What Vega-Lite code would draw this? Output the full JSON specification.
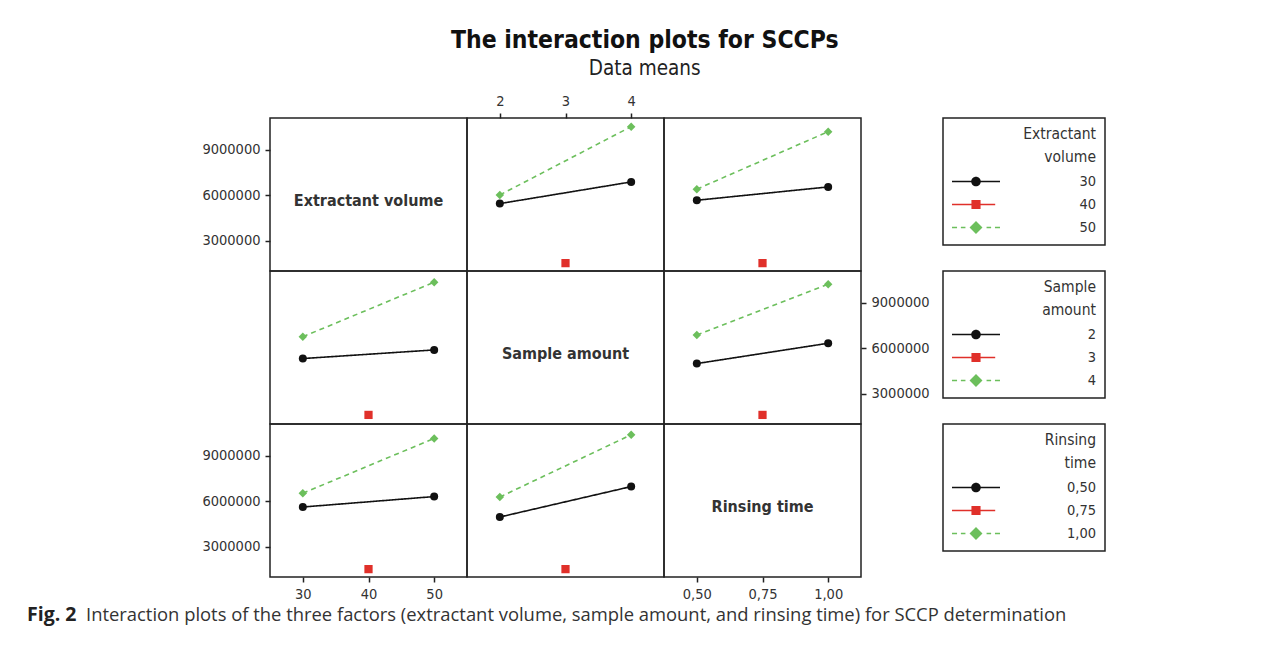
{
  "$schema": "https://vega.github.io/schema/vega-lite/v6.json",
  "padding": {"left": 27, "top": 28, "right": 10, "bottom": 10},
  "title": {
    "text": "The interaction plots for SCCPs",
    "subtitle": "Data means",
    "anchor": "middle",
    "dx": 78,
    "offset": 12,
    "font": "DejaVu Sans Condensed, DejaVu Sans, sans-serif",
    "fontSize": 24.5,
    "fontWeight": "bold",
    "color": "#111111",
    "subtitleFont": "DejaVu Sans Condensed, DejaVu Sans, sans-serif",
    "subtitleFontSize": 20.5,
    "subtitleColor": "#222222",
    "subtitlePadding": 5
  },
  "columns": 3,
  "spacing": 0,
  "bounds": "flush",
  "resolve": {
    "scale": {"color": "independent", "shape": "independent", "strokeDash": "independent", "size": "independent", "x": "independent", "y": "independent"},
    "legend": {"color": "independent", "shape": "independent"}
  },
  "concat": [
    {
      "width": 197, "height": 153,
      "data": {"values": [{"t": "Extractant volume"}]},
      "mark": {"type": "text", "fontWeight": "bold", "fontSize": 16, "color": "#333333", "baseline": "middle", "align": "center", "dy": 6},
      "encoding": {
        "text": {"field": "t"},
        "x": {"datum": 40, "type": "quantitative", "scale": {"domain": [25, 55], "nice": false, "zero": false}, "axis": null},
        "y": {"datum": 6050000, "type": "quantitative", "scale": {"domain": [1000000, 11100000], "nice": false, "zero": false}, "axis": {"orient": "left", "values": [3000000, 6000000, 9000000], "format": "d", "title": null}}
      }
    },
    {
      "width": 197, "height": 153,
      "data": {"values": [
        {"x": 2, "y": 5450000, "g": "30"}, {"x": 4, "y": 6880000, "g": "30"},
        {"x": 3, "y": 1520000, "g": "40"},
        {"x": 2, "y": 6020000, "g": "50"}, {"x": 4, "y": 10530000, "g": "50"}
      ]},
      "encoding": {
        "x": {"field": "x", "type": "quantitative", "scale": {"domain": [1.5, 4.5], "nice": false, "zero": false}, "axis": {"orient": "top", "values": [2, 3, 4], "format": "d", "title": null}},
        "y": {"field": "y", "type": "quantitative", "scale": {"domain": [1000000, 11100000], "nice": false, "zero": false}, "axis": null}
      },
      "layer": [
        {"mark": {"type": "line", "strokeWidth": 1.6},
         "encoding": {
           "color": {"field": "g", "type": "nominal", "scale": {"domain": ["30", "40", "50"], "range": ["#111111", "#e0302a", "#6cbf5c"]}, "legend": null},
           "strokeDash": {"field": "g", "type": "nominal", "scale": {"domain": ["30", "40", "50"], "range": [[1, 0], [1, 0], [5, 4]]}, "legend": null}}},
        {"mark": {"type": "point", "filled": true, "opacity": 1},
         "encoding": {
           "color": {"field": "g", "type": "nominal", "scale": {"domain": ["30", "40", "50"], "range": ["#111111", "#e0302a", "#6cbf5c"]}, "legend": null},
           "shape": {"field": "g", "type": "nominal", "scale": {"domain": ["30", "40", "50"], "range": ["circle", "square", "diamond"]}, "legend": null},
           "size": {"field": "g", "type": "ordinal", "scale": {"domain": ["30", "40", "50"], "range": [64, 72, 140]}, "legend": null}}}
      ]
    },
    {
      "width": 197, "height": 153,
      "resolve": {"scale": {"color": "independent", "shape": "independent"}},
      "encoding": {
        "x": {"field": "x", "type": "quantitative", "scale": {"domain": [0.375, 1.125], "nice": false, "zero": false}, "axis": null},
        "y": {"field": "y", "type": "quantitative", "scale": {"domain": [1000000, 11100000], "nice": false, "zero": false}, "axis": null}
      },
      "layer": [
        {"data": {"values": [
          {"x": 0.5, "y": 5670000, "g": "30"}, {"x": 1.0, "y": 6550000, "g": "30"},
          {"x": 0.75, "y": 1520000, "g": "40"},
          {"x": 0.5, "y": 6400000, "g": "50"}, {"x": 1.0, "y": 10200000, "g": "50"}
        ]},
         "layer": [
          {"mark": {"type": "line", "strokeWidth": 1.6},
           "encoding": {
             "color": {"field": "g", "type": "nominal", "scale": {"domain": ["30", "40", "50"], "range": ["#111111", "#e0302a", "#6cbf5c"]}, "legend": null},
             "strokeDash": {"field": "g", "type": "nominal", "scale": {"domain": ["30", "40", "50"], "range": [[1, 0], [1, 0], [5, 4]]}, "legend": null}}},
          {"mark": {"type": "point", "filled": true, "opacity": 1},
           "encoding": {
             "color": {"field": "g", "type": "nominal", "scale": {"domain": ["30", "40", "50"], "range": ["#111111", "#e0302a", "#6cbf5c"]}, "legend": null},
             "shape": {"field": "g", "type": "nominal", "scale": {"domain": ["30", "40", "50"], "range": ["circle", "square", "diamond"]}, "legend": null},
             "size": {"field": "g", "type": "ordinal", "scale": {"domain": ["30", "40", "50"], "range": [64, 72, 140]}, "legend": null}}}
         ]},
        {"data": {"values": [{"g": "30"}, {"g": "40"}, {"g": "50"}]},
         "mark": {"type": "point", "filled": true, "opacity": 0, "size": 2304},
         "encoding": {
           "color": {"field": "g", "type": "nominal", "scale": {"domain": ["30", "40", "50"], "range": ["#111111", "#e0302a", "#6cbf5c"]},
             "legend": {"orient": "none", "legendX": 279, "legendY": 0, "title": ["Extractant", "volume"], "titleAnchor": "end", "titleAlign": "right", "titleLineHeight": 23, "titlePadding": 8, "labelAlign": "right", "labelOffset": 96, "symbolSize": 2304, "symbolStrokeWidth": 0, "symbolOpacity": 1, "clipHeight": 16, "rowPadding": 7, "padding": 9}},
           "shape": {"field": "g", "type": "nominal", "scale": {"domain": ["30", "40", "50"], "range": [
             "M-1,-0.031H-0.17V0.031H-1Z M0.17,-0.031H1V0.031H0.17Z M-0.2,0A0.2,0.2 0 1 1 0.2,0A0.2,0.2 0 1 1 -0.2,0Z",
             "M-1,-0.031H-0.17V0.031H-1Z M0.17,-0.031H0.8V0.031H0.17Z M-0.19,-0.19H0.19V0.19H-0.19Z",
             "M-1,-0.031H-0.79V0.031H-1Z M-0.63,-0.031H-0.44V0.031H-0.63Z M0.44,-0.031H0.63V0.031H0.44Z M0.79,-0.031H1V0.031H0.79Z M0,-0.27L0.27,0L0,0.27L-0.27,0Z"]},
             "legend": {"orient": "none", "legendX": 279, "legendY": 0, "title": ["Extractant", "volume"], "titleAnchor": "end", "titleAlign": "right", "titleLineHeight": 23, "titlePadding": 8, "labelAlign": "right", "labelOffset": 96, "symbolSize": 2304, "symbolStrokeWidth": 0, "symbolOpacity": 1, "clipHeight": 16, "rowPadding": 7, "padding": 9}}
         }}
      ]
    },
    {
      "width": 197, "height": 153,
      "data": {"values": [
        {"x": 30, "y": 5320000, "g": "2"}, {"x": 50, "y": 5890000, "g": "2"},
        {"x": 40, "y": 1600000, "g": "3"},
        {"x": 30, "y": 6760000, "g": "4"}, {"x": 50, "y": 10360000, "g": "4"}
      ]},
      "encoding": {
        "x": {"field": "x", "type": "quantitative", "scale": {"domain": [25, 55], "nice": false, "zero": false}, "axis": null},
        "y": {"field": "y", "type": "quantitative", "scale": {"domain": [1000000, 11100000], "nice": false, "zero": false}, "axis": null}
      },
      "layer": [
        {"mark": {"type": "line", "strokeWidth": 1.6},
         "encoding": {
           "color": {"field": "g", "type": "nominal", "scale": {"domain": ["2", "3", "4"], "range": ["#111111", "#e0302a", "#6cbf5c"]}, "legend": null},
           "strokeDash": {"field": "g", "type": "nominal", "scale": {"domain": ["2", "3", "4"], "range": [[1, 0], [1, 0], [5, 4]]}, "legend": null}}},
        {"mark": {"type": "point", "filled": true, "opacity": 1},
         "encoding": {
           "color": {"field": "g", "type": "nominal", "scale": {"domain": ["2", "3", "4"], "range": ["#111111", "#e0302a", "#6cbf5c"]}, "legend": null},
           "shape": {"field": "g", "type": "nominal", "scale": {"domain": ["2", "3", "4"], "range": ["circle", "square", "diamond"]}, "legend": null},
           "size": {"field": "g", "type": "ordinal", "scale": {"domain": ["2", "3", "4"], "range": [64, 72, 140]}, "legend": null}}}
      ]
    },
    {
      "width": 197, "height": 153,
      "data": {"values": [{"t": "Sample amount"}]},
      "mark": {"type": "text", "fontWeight": "bold", "fontSize": 16, "color": "#333333", "baseline": "middle", "align": "center", "dy": 6},
      "encoding": {
        "text": {"field": "t"},
        "x": {"datum": 3, "type": "quantitative", "scale": {"domain": [1.5, 4.5], "nice": false, "zero": false}, "axis": null},
        "y": {"datum": 6050000, "type": "quantitative", "scale": {"domain": [1000000, 11100000], "nice": false, "zero": false}, "axis": null}
      }
    },
    {
      "width": 197, "height": 153,
      "resolve": {"scale": {"color": "independent", "shape": "independent"}},
      "encoding": {
        "x": {"field": "x", "type": "quantitative", "scale": {"domain": [0.375, 1.125], "nice": false, "zero": false}, "axis": null},
        "y": {"field": "y", "type": "quantitative", "scale": {"domain": [1000000, 11100000], "nice": false, "zero": false}, "axis": {"orient": "right", "values": [3000000, 6000000, 9000000], "format": "d", "title": null}}
      },
      "layer": [
        {"data": {"values": [
          {"x": 0.5, "y": 4990000, "g": "2"}, {"x": 1.0, "y": 6330000, "g": "2"},
          {"x": 0.75, "y": 1600000, "g": "3"},
          {"x": 0.5, "y": 6880000, "g": "4"}, {"x": 1.0, "y": 10230000, "g": "4"}
        ]},
         "layer": [
          {"mark": {"type": "line", "strokeWidth": 1.6},
           "encoding": {
             "color": {"field": "g", "type": "nominal", "scale": {"domain": ["2", "3", "4"], "range": ["#111111", "#e0302a", "#6cbf5c"]}, "legend": null},
             "strokeDash": {"field": "g", "type": "nominal", "scale": {"domain": ["2", "3", "4"], "range": [[1, 0], [1, 0], [5, 4]]}, "legend": null}}},
          {"mark": {"type": "point", "filled": true, "opacity": 1},
           "encoding": {
             "color": {"field": "g", "type": "nominal", "scale": {"domain": ["2", "3", "4"], "range": ["#111111", "#e0302a", "#6cbf5c"]}, "legend": null},
             "shape": {"field": "g", "type": "nominal", "scale": {"domain": ["2", "3", "4"], "range": ["circle", "square", "diamond"]}, "legend": null},
             "size": {"field": "g", "type": "ordinal", "scale": {"domain": ["2", "3", "4"], "range": [64, 72, 140]}, "legend": null}}}
         ]},
        {"data": {"values": [{"g": "2"}, {"g": "3"}, {"g": "4"}]},
         "mark": {"type": "point", "filled": true, "opacity": 0, "size": 2304},
         "encoding": {
           "color": {"field": "g", "type": "nominal", "scale": {"domain": ["2", "3", "4"], "range": ["#111111", "#e0302a", "#6cbf5c"]},
             "legend": {"orient": "none", "legendX": 279, "legendY": 0, "title": ["Sample", "amount"], "titleAnchor": "end", "titleAlign": "right", "titleLineHeight": 23, "titlePadding": 8, "labelAlign": "right", "labelOffset": 96, "symbolSize": 2304, "symbolStrokeWidth": 0, "symbolOpacity": 1, "clipHeight": 16, "rowPadding": 7, "padding": 9}},
           "shape": {"field": "g", "type": "nominal", "scale": {"domain": ["2", "3", "4"], "range": [
             "M-1,-0.031H-0.17V0.031H-1Z M0.17,-0.031H1V0.031H0.17Z M-0.2,0A0.2,0.2 0 1 1 0.2,0A0.2,0.2 0 1 1 -0.2,0Z",
             "M-1,-0.031H-0.17V0.031H-1Z M0.17,-0.031H0.8V0.031H0.17Z M-0.19,-0.19H0.19V0.19H-0.19Z",
             "M-1,-0.031H-0.79V0.031H-1Z M-0.63,-0.031H-0.44V0.031H-0.63Z M0.44,-0.031H0.63V0.031H0.44Z M0.79,-0.031H1V0.031H0.79Z M0,-0.27L0.27,0L0,0.27L-0.27,0Z"]},
             "legend": {"orient": "none", "legendX": 279, "legendY": 0, "title": ["Sample", "amount"], "titleAnchor": "end", "titleAlign": "right", "titleLineHeight": 23, "titlePadding": 8, "labelAlign": "right", "labelOffset": 96, "symbolSize": 2304, "symbolStrokeWidth": 0, "symbolOpacity": 1, "clipHeight": 16, "rowPadding": 7, "padding": 9}}
         }}
      ]
    },
    {
      "width": 197, "height": 153,
      "data": {"values": [
        {"x": 30, "y": 5620000, "g": "0,50"}, {"x": 50, "y": 6310000, "g": "0,50"},
        {"x": 40, "y": 1520000, "g": "0,75"},
        {"x": 30, "y": 6530000, "g": "1,00"}, {"x": 50, "y": 10150000, "g": "1,00"}
      ]},
      "encoding": {
        "x": {"field": "x", "type": "quantitative", "scale": {"domain": [25, 55], "nice": false, "zero": false}, "axis": {"orient": "bottom", "values": [30, 40, 50], "format": "d", "title": null}},
        "y": {"field": "y", "type": "quantitative", "scale": {"domain": [1000000, 11100000], "nice": false, "zero": false}, "axis": {"orient": "left", "values": [3000000, 6000000, 9000000], "format": "d", "title": null}}
      },
      "layer": [
        {"mark": {"type": "line", "strokeWidth": 1.6},
         "encoding": {
           "color": {"field": "g", "type": "nominal", "scale": {"domain": ["0,50", "0,75", "1,00"], "range": ["#111111", "#e0302a", "#6cbf5c"]}, "legend": null},
           "strokeDash": {"field": "g", "type": "nominal", "scale": {"domain": ["0,50", "0,75", "1,00"], "range": [[1, 0], [1, 0], [5, 4]]}, "legend": null}}},
        {"mark": {"type": "point", "filled": true, "opacity": 1},
         "encoding": {
           "color": {"field": "g", "type": "nominal", "scale": {"domain": ["0,50", "0,75", "1,00"], "range": ["#111111", "#e0302a", "#6cbf5c"]}, "legend": null},
           "shape": {"field": "g", "type": "nominal", "scale": {"domain": ["0,50", "0,75", "1,00"], "range": ["circle", "square", "diamond"]}, "legend": null},
           "size": {"field": "g", "type": "ordinal", "scale": {"domain": ["0,50", "0,75", "1,00"], "range": [64, 72, 140]}, "legend": null}}}
      ]
    },
    {
      "width": 197, "height": 153,
      "data": {"values": [
        {"x": 2, "y": 4960000, "g": "0,50"}, {"x": 4, "y": 6970000, "g": "0,50"},
        {"x": 3, "y": 1520000, "g": "0,75"},
        {"x": 2, "y": 6280000, "g": "1,00"}, {"x": 4, "y": 10390000, "g": "1,00"}
      ]},
      "encoding": {
        "x": {"field": "x", "type": "quantitative", "scale": {"domain": [1.5, 4.5], "nice": false, "zero": false}, "axis": null},
        "y": {"field": "y", "type": "quantitative", "scale": {"domain": [1000000, 11100000], "nice": false, "zero": false}, "axis": null}
      },
      "layer": [
        {"mark": {"type": "line", "strokeWidth": 1.6},
         "encoding": {
           "color": {"field": "g", "type": "nominal", "scale": {"domain": ["0,50", "0,75", "1,00"], "range": ["#111111", "#e0302a", "#6cbf5c"]}, "legend": null},
           "strokeDash": {"field": "g", "type": "nominal", "scale": {"domain": ["0,50", "0,75", "1,00"], "range": [[1, 0], [1, 0], [5, 4]]}, "legend": null}}},
        {"mark": {"type": "point", "filled": true, "opacity": 1},
         "encoding": {
           "color": {"field": "g", "type": "nominal", "scale": {"domain": ["0,50", "0,75", "1,00"], "range": ["#111111", "#e0302a", "#6cbf5c"]}, "legend": null},
           "shape": {"field": "g", "type": "nominal", "scale": {"domain": ["0,50", "0,75", "1,00"], "range": ["circle", "square", "diamond"]}, "legend": null},
           "size": {"field": "g", "type": "ordinal", "scale": {"domain": ["0,50", "0,75", "1,00"], "range": [64, 72, 140]}, "legend": null}}}
      ]
    },
    {
      "width": 197, "height": 153,
      "resolve": {"scale": {"color": "independent", "shape": "independent"}},
      "layer": [
        {"data": {"values": [{"t": "Rinsing  time"}]},
         "mark": {"type": "text", "fontWeight": "bold", "fontSize": 16, "color": "#333333", "baseline": "middle", "align": "center", "dy": 6},
         "encoding": {
           "text": {"field": "t"},
           "x": {"datum": 0.75, "type": "quantitative", "scale": {"domain": [0.375, 1.125], "nice": false, "zero": false}, "axis": {"orient": "bottom", "values": [0.5, 0.75, 1.0], "labelExpr": "replace(format(datum.value, '.2f'), '.', ',')", "title": null}},
           "y": {"datum": 6050000, "type": "quantitative", "scale": {"domain": [1000000, 11100000], "nice": false, "zero": false}, "axis": null}
         }},
        {"data": {"values": [{"g": "0,50"}, {"g": "0,75"}, {"g": "1,00"}]},
         "mark": {"type": "point", "filled": true, "opacity": 0, "size": 2304},
         "encoding": {
           "color": {"field": "g", "type": "nominal", "scale": {"domain": ["0,50", "0,75", "1,00"], "range": ["#111111", "#e0302a", "#6cbf5c"]},
             "legend": {"orient": "none", "legendX": 279, "legendY": 0, "title": ["Rinsing", "time"], "titleAnchor": "end", "titleAlign": "right", "titleLineHeight": 23, "titlePadding": 8, "labelAlign": "right", "labelOffset": 96, "symbolSize": 2304, "symbolStrokeWidth": 0, "symbolOpacity": 1, "clipHeight": 16, "rowPadding": 7, "padding": 9}},
           "shape": {"field": "g", "type": "nominal", "scale": {"domain": ["0,50", "0,75", "1,00"], "range": [
             "M-1,-0.031H-0.17V0.031H-1Z M0.17,-0.031H1V0.031H0.17Z M-0.2,0A0.2,0.2 0 1 1 0.2,0A0.2,0.2 0 1 1 -0.2,0Z",
             "M-1,-0.031H-0.17V0.031H-1Z M0.17,-0.031H0.8V0.031H0.17Z M-0.19,-0.19H0.19V0.19H-0.19Z",
             "M-1,-0.031H-0.79V0.031H-1Z M-0.63,-0.031H-0.44V0.031H-0.63Z M0.44,-0.031H0.63V0.031H0.44Z M0.79,-0.031H1V0.031H0.79Z M0,-0.27L0.27,0L0,0.27L-0.27,0Z"]},
             "legend": {"orient": "none", "legendX": 279, "legendY": 0, "title": ["Rinsing", "time"], "titleAnchor": "end", "titleAlign": "right", "titleLineHeight": 23, "titlePadding": 8, "labelAlign": "right", "labelOffset": 96, "symbolSize": 2304, "symbolStrokeWidth": 0, "symbolOpacity": 1, "clipHeight": 16, "rowPadding": 7, "padding": 9}}
         }}
      ]
    },
    {
      "width": 197, "height": 38,
      "view": {"stroke": null},
      "data": {"values": [{"a": "Fig. 2", "b": "Interaction plots of the three factors (extractant volume, sample amount, and rinsing time) for SCCP determination"}]},
      "layer": [
        {"mark": {"type": "text", "font": "Open Sans", "fontSize": 19.5, "fontWeight": "bold", "color": "#222222", "align": "left", "baseline": "middle"},
         "encoding": {"text": {"field": "a"}, "x": {"value": -243}, "y": {"value": 38}}},
        {"mark": {"type": "text", "font": "Open Sans", "fontSize": 18.4, "color": "#333333", "align": "left", "baseline": "middle"},
         "encoding": {"text": {"field": "b"}, "x": {"value": -184}, "y": {"value": 38}}}
      ]
    }
  ],
  "config": {
    "font": "DejaVu Sans Condensed, DejaVu Sans, sans-serif",
    "view": {"stroke": "#222222", "strokeWidth": 1.5},
    "axis": {
      "domain": false, "grid": false,
      "labelFont": "DejaVu Sans Condensed, DejaVu Sans, sans-serif",
      "labelFontSize": 14.5, "labelColor": "#333333",
      "tickColor": "#222222", "tickWidth": 1.5, "tickSize": 5, "labelPadding": 5
    },
    "legend": {
      "titleFont": "DejaVu Sans Condensed, DejaVu Sans, sans-serif",
      "titleFontSize": 15.5, "titleFontWeight": "normal", "titleColor": "#333333",
      "labelFont": "DejaVu Sans Condensed, DejaVu Sans, sans-serif",
      "labelFontSize": 14.5, "labelColor": "#333333",
      "strokeColor": "#222222", "strokeWidth": 1.5, "fillColor": "#ffffff"
    }
  }
}
